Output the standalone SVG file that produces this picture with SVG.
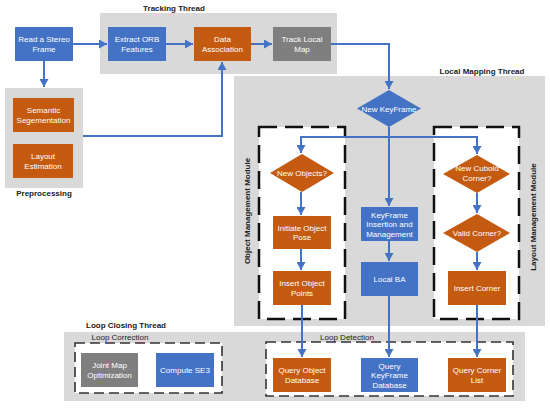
<svg xmlns="http://www.w3.org/2000/svg" width="550" height="408" viewBox="0 0 550 408">
<style>
.bg{fill:#d9d9d9}
.blue{fill:#4472c4}
.orange{fill:#c55a11}
.gray{fill:#7f7f7f}
.t{font-family:"Liberation Sans",Arial,sans-serif;font-size:8px;fill:#fff;text-anchor:middle}
.title{font-family:"Liberation Sans",Arial,sans-serif;font-size:8px;font-weight:bold;fill:#222;text-anchor:middle}
.lbl{font-family:"Liberation Sans",Arial,sans-serif;font-size:8px;fill:#222;text-anchor:middle}
.dash{fill:#fff;stroke:#111;stroke-width:2.5;stroke-dasharray:18 8}
.dash2{fill:#fff;stroke:#333;stroke-width:1.6;stroke-dasharray:10 5}
.c{fill:none;stroke:#4472c4;stroke-width:2;marker-end:url(#ah)}
</style>
<defs>
<marker id="ah" markerUnits="userSpaceOnUse" markerWidth="9" markerHeight="9" refX="8" refY="4.5" orient="auto">
<path d="M0,0 L8,4.5 L0,9 z" fill="#4472c4"/>
</marker>
</defs>

<!-- containers -->
<g id="tracking-thread">
<rect class="bg" x="100" y="13" width="237" height="61"/>
<text class="title" x="174" y="11">Tracking Thread</text>
</g>
<g id="preprocessing">
<rect class="bg" x="5" y="88" width="78" height="100"/>
<text class="title" x="44" y="196">Preprocessing</text>
</g>
<g id="local-mapping-thread">
<rect class="bg" x="234" y="76" width="311" height="250"/>
<text class="title" x="482" y="74">Local Mapping Thread</text>
</g>
<g id="object-management-module">
<rect class="dash" x="259" y="127" width="86" height="192"/>
<text class="title" transform="translate(250,211) rotate(-90)">Object Management Module</text>
</g>
<g id="layout-management-module">
<rect class="dash" x="434" y="127" width="85" height="192"/>
<text class="title" transform="translate(536,217) rotate(-90)">Layout Management Module</text>
</g>
<g id="loop-closing-thread">
<rect class="bg" x="64" y="332" width="461" height="69"/>
<text class="title" x="126" y="328">Loop Closing Thread</text>
</g>
<g id="loop-correction">
<rect class="dash2" x="75" y="343" width="147" height="50"/>
<text class="lbl" x="120" y="340">Loop Correction</text>
</g>
<g id="loop-detection">
<rect class="dash2" x="266" y="342" width="247" height="54"/>
<text class="lbl" x="347" y="340">Loop Detection</text>
</g>

<!-- connectors -->
<g id="connectors">
<path class="c" d="M73,44 H107"/>
<path class="c" d="M166,44 H193"/>
<path class="c" d="M251,44 H272"/>
<path class="c" d="M44,61 V87"/>
<path class="c" d="M83,136 H222 V62"/>
<path class="c" d="M331,44 H389 V89"/>
<path class="c" d="M389,127 V206"/>
<path class="c" d="M389,137 H301 V153"/>
<path class="c" d="M389,137 H477 V154"/>
<path class="c" d="M301,192 V215"/>
<path class="c" d="M301,249 V270"/>
<path class="c" d="M389,241 V261"/>
<path class="c" d="M477,193 V213"/>
<path class="c" d="M477,252 V270"/>
<path class="c" d="M302,305 V357"/>
<path class="c" d="M389,296 V357"/>
<path class="c" d="M477,305 V357"/>
</g>

<!-- nodes -->
<g id="read-stereo-frame">
<rect class="blue" x="15" y="27" width="58" height="34"/>
<text class="t" x="44" y="42">Read a Stereo</text>
<text class="t" x="44" y="51.5">Frame</text>
</g>
<g id="extract-orb">
<rect class="blue" x="108" y="27" width="58" height="34"/>
<text class="t" x="137" y="42">Extract ORB</text>
<text class="t" x="137" y="51.5">Features</text>
</g>
<g id="data-association">
<rect class="orange" x="194" y="27" width="57" height="34"/>
<text class="t" x="222.5" y="42">Data</text>
<text class="t" x="222.5" y="51.5">Association</text>
</g>
<g id="track-local-map">
<rect class="gray" x="273" y="27" width="58" height="34"/>
<text class="t" x="302" y="42">Track Local</text>
<text class="t" x="302" y="51.5">Map</text>
</g>
<g id="semantic-segmentation">
<rect class="orange" x="13" y="98" width="61" height="34"/>
<text class="t" x="43.5" y="113">Semantic</text>
<text class="t" x="43.5" y="122.5">Segementation</text>
</g>
<g id="layout-estimation">
<rect class="orange" x="13" y="144" width="60" height="34"/>
<text class="t" x="43" y="159">Layout</text>
<text class="t" x="43" y="168.5">Estimation</text>
</g>
<g id="new-keyframe">
<polygon class="blue" points="389,90 421,108.5 389,127 357,108.5"/>
<text class="t" x="389" y="111.5">New KeyFrame</text>
</g>
<g id="new-objects">
<polygon class="orange" points="302,154 334,173 302,192 270,173"/>
<text class="t" x="302" y="176">New Objects?</text>
</g>
<g id="initiate-object-pose">
<rect class="orange" x="273" y="216" width="58" height="33"/>
<text class="t" x="302" y="230.5">Initiate Object</text>
<text class="t" x="302" y="240">Pose</text>
</g>
<g id="insert-object-points">
<rect class="orange" x="273" y="271" width="58" height="34"/>
<text class="t" x="302" y="286">Insert Object</text>
<text class="t" x="302" y="295.5">Points</text>
</g>
<g id="keyframe-insertion">
<rect class="blue" x="361" y="207" width="57" height="34"/>
<text class="t" x="389.5" y="217.5">KeyFrame</text>
<text class="t" x="389.5" y="227">Insertion and</text>
<text class="t" x="389.5" y="236.5">Management</text>
</g>
<g id="local-ba">
<rect class="blue" x="361" y="262" width="57" height="34"/>
<text class="t" x="389.5" y="282">Local BA</text>
</g>
<g id="new-cuboid-corner">
<polygon class="orange" points="477,155 510,174 477,193 443,174"/>
<text class="t" x="477" y="171">New Cuboid</text>
<text class="t" x="477" y="180.5">Corner?</text>
</g>
<g id="valid-corner">
<polygon class="orange" points="477,214 510,233 477,252 443,233"/>
<text class="t" x="477" y="236">Valid Corner?</text>
</g>
<g id="insert-corner">
<rect class="orange" x="448" y="271" width="58" height="34"/>
<text class="t" x="477" y="291">Insert Corner</text>
</g>
<g id="joint-map-optimization">
<rect class="gray" x="81" y="353" width="57" height="34"/>
<text class="t" x="109.5" y="368">Joint Map</text>
<text class="t" x="109.5" y="377.5">Optimization</text>
</g>
<g id="compute-se3">
<rect class="blue" x="156" y="353" width="58" height="34"/>
<text class="t" x="185" y="373">Compute SE3</text>
</g>
<g id="query-object-database">
<rect class="orange" x="273" y="358" width="58" height="34"/>
<text class="t" x="302" y="373">Query Object</text>
<text class="t" x="302" y="382.5">Database</text>
</g>
<g id="query-keyframe-database">
<rect class="blue" x="361" y="358" width="57" height="34"/>
<text class="t" x="389.5" y="368.5">Query</text>
<text class="t" x="389.5" y="378">KeyFrame</text>
<text class="t" x="389.5" y="387.5">Database</text>
</g>
<g id="query-corner-list">
<rect class="orange" x="448" y="358" width="58" height="34"/>
<text class="t" x="477" y="373">Query Corner</text>
<text class="t" x="477" y="382.5">List</text>
</g>
</svg>
